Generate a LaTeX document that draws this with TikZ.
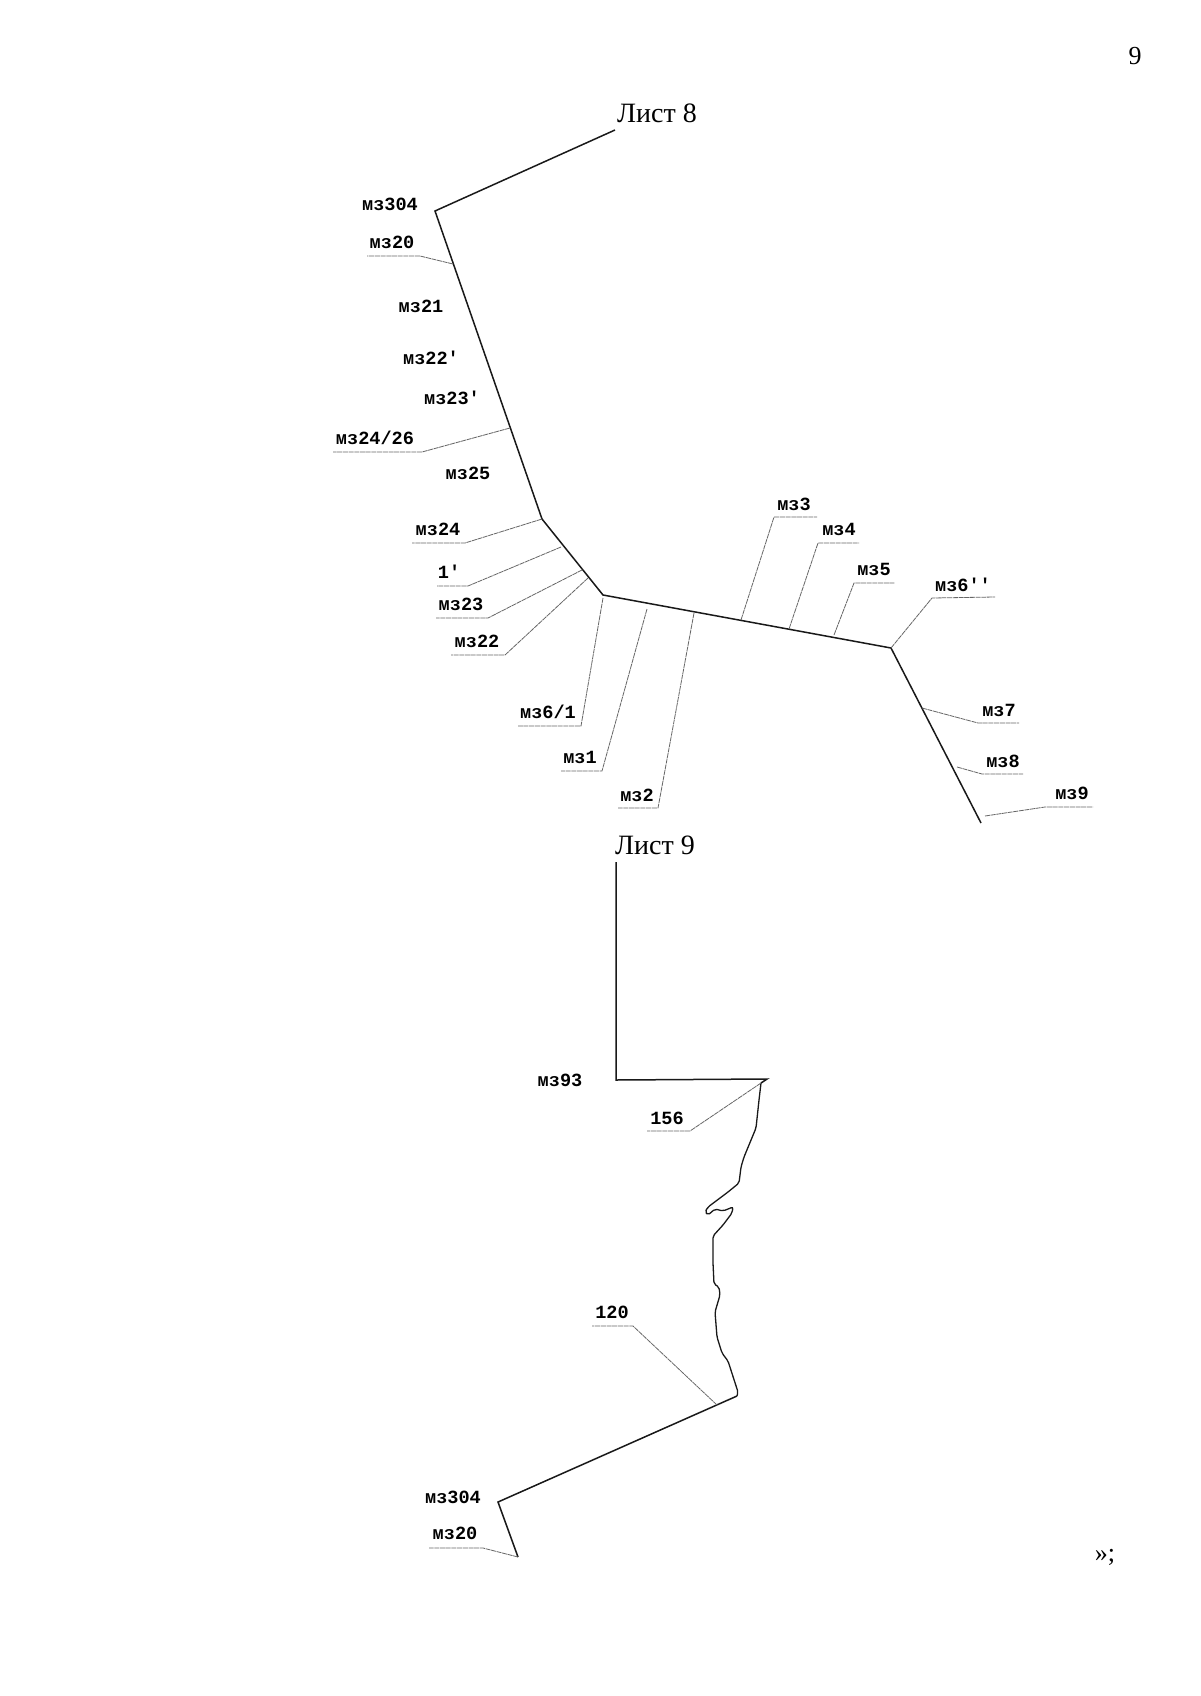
\documentclass[tikz,border=0pt]{standalone}
\usepackage{fontspec}
\setmainfont{Liberation Serif}
\setmonofont{Liberation Mono}
\usepackage{tikz}

\begin{document}
\begin{tikzpicture}[
    x=1pt, y=-1pt,
    every node/.style={inner sep=0pt},
    lbl/.style={font=\fontsize{18.6}{20}\ttfamily\bfseries, anchor=center},
    sheet/.style={font=\fontsize{28}{30}\selectfont, anchor=center},
    pagemark/.style={font=\fontsize{26}{28}\selectfont, anchor=center},
    wire/.style={draw, line width=1.5pt, black!90, line join=miter},
    curvewire/.style={draw, line width=1.3pt, black!90, rounded corners=2pt},
    leader/.style={draw, line width=0.8pt, black!60, dash pattern=on 5pt off 0.7pt},
]
\useasboundingbox[fill=white] (0,0) rectangle (1200,1696);

% page marks
\node[pagemark] (pageno) at (1135,56) {9};
\node[pagemark] (closing) at (1105,1557) {»;};

% sheet 8, main line
\node[sheet] (sheet8) at (657,113) {Лист 8};
\coordinate (top8) at (615,130);
\coordinate (p304) at (435,211);
\coordinate (p24) at (542,519);
\coordinate (p6a) at (603,595);
\coordinate (p6b) at (891,648);
\coordinate (p9) at (981,823);
\draw[wire] (top8) -- (p304) -- (p24) -- (p6a) -- (p6b) -- (p9);

% labels with no leader
\node[lbl] (mz304) at (390,204) {мз304};
\node[lbl] (mz21) at (421,306) {мз21};
\node[lbl] (mz22p) at (431,358) {мз22'};
\node[lbl] (mz23p) at (452,398) {мз23'};
\node[lbl] (mz25) at (468,473) {мз25};

% left side labels
\node[lbl] (mz20) at (392,242) {мз20};
\coordinate (mz20a) at (453,264); \coordinate (mz20b) at (420,256); \coordinate (mz20c) at (367,256);
\draw[leader] (mz20a) -- (mz20b) -- (mz20c);

\node[lbl] (mz2426) at (375,438) {мз24/26};
\coordinate (mz2426a) at (510,428); \coordinate (mz2426b) at (422,452); \coordinate (mz2426c) at (333,452);
\draw[leader] (mz2426a) -- (mz2426b) -- (mz2426c);

\node[lbl] (mz24) at (438,529) {мз24};
\coordinate (mz24b) at (465,543); \coordinate (mz24c) at (412,543);
\draw[leader] (p24) -- (mz24b) -- (mz24c);

\node[lbl] (one) at (449,572) {1'};
\coordinate (onea) at (561,547); \coordinate (oneb) at (468,586); \coordinate (onec) at (437,586);
\draw[leader] (onea) -- (oneb) -- (onec);

\node[lbl] (mz23) at (461,604) {мз23};
\coordinate (mz23a) at (582,570); \coordinate (mz23b) at (488,618); \coordinate (mz23c) at (436,618);
\draw[leader] (mz23a) -- (mz23b) -- (mz23c);

\node[lbl] (mz22) at (477,641) {мз22};
\coordinate (mz22a) at (588,578); \coordinate (mz22b) at (505,655); \coordinate (mz22c) at (451,655);
\draw[leader] (mz22a) -- (mz22b) -- (mz22c);

% labels below the middle segment
\node[lbl] (mz61) at (548,712) {мз6/1};
\coordinate (mz61a) at (603,598); \coordinate (mz61b) at (581,726); \coordinate (mz61c) at (518,726);
\draw[leader] (mz61a) -- (mz61b) -- (mz61c);

\node[lbl] (mz1) at (580,757) {мз1};
\coordinate (mz1a) at (647,609); \coordinate (mz1b) at (602,771); \coordinate (mz1c) at (561,771);
\draw[leader] (mz1a) -- (mz1b) -- (mz1c);

\node[lbl] (mz2) at (637,795) {мз2};
\coordinate (mz2a) at (694,613); \coordinate (mz2b) at (658,808); \coordinate (mz2c) at (618,808);
\draw[leader] (mz2a) -- (mz2b) -- (mz2c);

% labels above the middle segment
\node[lbl] (mz3) at (794,504) {мз3};
\coordinate (mz3a) at (741,620); \coordinate (mz3b) at (774,517); \coordinate (mz3c) at (817,517);
\draw[leader] (mz3a) -- (mz3b) -- (mz3c);

\node[lbl] (mz4) at (839,529) {мз4};
\coordinate (mz4a) at (789,629); \coordinate (mz4b) at (818,543); \coordinate (mz4c) at (859,543);
\draw[leader] (mz4a) -- (mz4b) -- (mz4c);

\node[lbl] (mz5) at (874,569) {мз5};
\coordinate (mz5a) at (834,635); \coordinate (mz5b) at (854,583); \coordinate (mz5c) at (895,583);
\draw[leader] (mz5a) -- (mz5b) -- (mz5c);

\node[lbl] (mz6pp) at (963,585) {мз6''};
\coordinate (mz6ppb) at (932,598); \coordinate (mz6ppc) at (995,597);
\draw[leader] (p6b) -- (mz6ppb) -- (mz6ppc);

% right side labels
\node[lbl] (mz7) at (999,710) {мз7};
\coordinate (mz7a) at (922,708); \coordinate (mz7b) at (978,723); \coordinate (mz7c) at (1019,723);
\draw[leader] (mz7a) -- (mz7b) -- (mz7c);

\node[lbl] (mz8) at (1003,761) {мз8};
\coordinate (mz8a) at (957,767); \coordinate (mz8b) at (982,774); \coordinate (mz8c) at (1023,774);
\draw[leader] (mz8a) -- (mz8b) -- (mz8c);

\node[lbl] (mz9) at (1072,793) {мз9};
\coordinate (mz9a) at (985,816); \coordinate (mz9b) at (1045,807); \coordinate (mz9c) at (1093,807);
\draw[leader] (mz9a) -- (mz9b) -- (mz9c);

% sheet 9, main line
\node[sheet] (sheet9) at (655,845) {Лист 9};
\coordinate (top9) at (616,862);
\coordinate (p93) at (616,1080);
\coordinate (p156) at (767,1079);
\coordinate (q156) at (761,1083);
\coordinate (q120) at (737,1396);
\coordinate (low304) at (498,1502);
\coordinate (low20) at (518,1557);
\draw[wire] (top9) -- (p93) -- (p156) -- (q156);
\draw[wire] (q120) -- (low304) -- (low20);

% river bank, traced by hand
\draw[curvewire] (q156) -- (759,1100) -- (756,1128) -- (744,1157) -- (741,1167)
    -- (739,1183) -- (728,1192) -- (708,1207) -- (705,1212) -- (708,1215)
    -- (715,1209) -- (723,1211) -- (733,1207) -- (732,1213) -- (723,1225)
    -- (713,1236) -- (713,1263) -- (714,1284) -- (719,1287) -- (720,1295)
    -- (715,1312) -- (717,1337) -- (722,1353) -- (728,1361) -- (738,1392)
    -- (q120);

% sheet 9 labels
\node[lbl] (mz93) at (560,1080) {мз93};
\node[lbl] (n156) at (667,1118) {156};
\coordinate (n156b) at (690,1131); \coordinate (n156c) at (647,1131);
\draw[leader] (q156) -- (n156b) -- (n156c);

\node[lbl] (n120) at (612,1312) {120};
\coordinate (n120a) at (717,1405); \coordinate (n120b) at (633,1326); \coordinate (n120c) at (592,1326);
\draw[leader] (n120a) -- (n120b) -- (n120c);

\node[lbl] (lowmz304) at (453,1497) {мз304};
\node[lbl] (lowmz20) at (455,1533) {мз20};
\coordinate (lowmz20b) at (483,1548); \coordinate (lowmz20c) at (429,1548);
\draw[leader] (low20) -- (lowmz20b) -- (lowmz20c);

\end{tikzpicture}
\end{document}
